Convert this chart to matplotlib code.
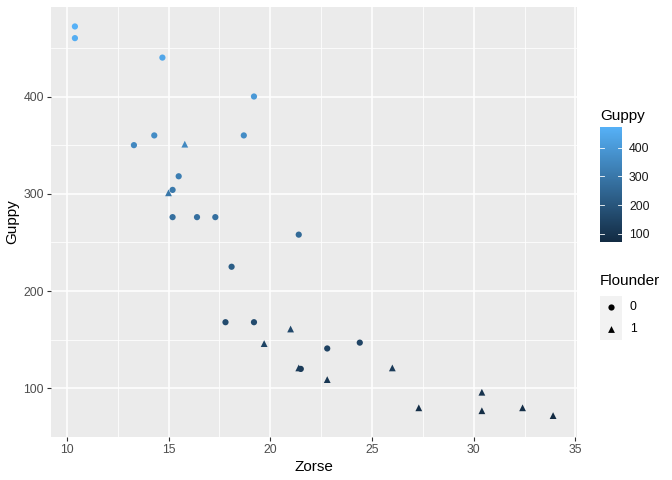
import numpy as np
import matplotlib
matplotlib.use("Agg")
import matplotlib.pyplot as plt
from matplotlib.colors import LinearSegmentedColormap, Normalize

plt.rcParams['font.family'] = ['Liberation Sans', 'DejaVu Sans']

# дані
zorse = [10.4, 10.4, 14.7, 19.2, 13.3, 14.3, 15.8, 18.7, 15.5, 15.2, 15.0,
         15.2, 16.4, 17.3, 21.4, 18.1, 17.8, 19.2, 21.0, 19.7, 22.8, 21.4,
         21.5, 22.8, 24.4, 26.0, 27.3, 30.4, 30.4, 32.4, 33.9]
guppy = [472, 460, 440, 400, 350, 360, 351, 360, 318, 304, 301,
         276, 276, 276, 258, 225, 168, 168, 161, 146, 141, 121,
         120, 109, 147, 121, 80, 96, 77, 80, 72]
flounder = [0, 0, 0, 0, 0, 0, 1, 0, 0, 0, 1,
            0, 0, 0, 0, 0, 0, 0, 1, 1, 0, 1,
            0, 1, 0, 1, 1, 1, 1, 1, 1]
cbar_ticks = [100, 200, 300, 400]

zorse = np.array(zorse)
guppy = np.array(guppy)
flounder = np.array(flounder)

cmap = LinearSegmentedColormap.from_list("gg", ["#132B43", "#56B1F7"])
norm = Normalize(vmin=guppy.min(), vmax=guppy.max())

fig = plt.figure(figsize=(6.72, 4.8), dpi=100)
ax = fig.add_axes([51 / 672, 1 - 437 / 480, (577 - 51) / 672, (437 - 7) / 480])
ax.set_facecolor("#EBEBEB")
ax.set_axisbelow(True)

for fl, mk in [(0, "o"), (1, "^")]:
    m = flounder == fl
    ax.scatter(zorse[m], guppy[m], c=guppy[m], cmap=cmap, norm=norm,
               marker=mk, s=20 if mk == "o" else 24, linewidths=0, zorder=3)

# межі як у ggplot (розширення 5%)
xr = zorse.max() - zorse.min()
yr = guppy.max() - guppy.min()
ax.set_xlim(zorse.min() - 0.05 * xr, zorse.max() + 0.05 * xr)
ax.set_ylim(guppy.min() - 0.05 * yr, guppy.max() + 0.05 * yr)

ax.set_xticks([10, 15, 20, 25, 30, 35])
ax.set_yticks([100, 200, 300, 400])
ax.set_xticks([12.5, 17.5, 22.5, 27.5, 32.5], minor=True)
ax.set_yticks([50, 150, 250, 350, 450], minor=True)
ax.grid(True, which="major", color="white", linewidth=1.1)
ax.grid(True, which="minor", color="white", linewidth=0.55)
for s in ax.spines.values():
    s.set_visible(False)
ax.tick_params(which="major", length=3, color="#333333", width=0.8,
               labelsize=8.8, labelcolor="#4D4D4D", pad=2)
ax.tick_params(which="minor", length=0)
ax.set_xlabel("Zorse", fontsize=11, labelpad=3)
ax.set_ylabel("Guppy", fontsize=11, labelpad=3)

# легенда кольору
cax = fig.add_axes([600 / 672, 1 - 242 / 480, 22 / 672, 115 / 480])
grad = np.linspace(guppy.min(), guppy.max(), 300).reshape(-1, 1)
cax.imshow(grad, aspect="auto", cmap=cmap, norm=norm, origin="lower",
           extent=[0, 1, guppy.min(), guppy.max()])
cax.set_xlim(0, 1)
cax.set_ylim(guppy.min(), guppy.max())
cax.set_xticks([])
cax.set_yticks(cbar_ticks)
cax.yaxis.tick_right()
cax.tick_params(axis="y", length=0, labelsize=8.8, labelcolor="#1A1A1A", pad=5)
for t in cbar_ticks:
    cax.plot([0, 0.2], [t, t], color="white", lw=0.6)
    cax.plot([0.8, 1], [t, t], color="white", lw=0.6)
for s in cax.spines.values():
    s.set_visible(False)
fig.text(600 / 672, 1 - 116 / 480, "Guppy", fontsize=11, va="center")

# легенда форми
fig.text(600 / 672, 1 - 281 / 480, "Flounder", fontsize=11, va="center")
lax = fig.add_axes([600 / 672, 1 - 340 / 480, 22 / 672, 44 / 480])
lax.set_xlim(0, 1)
lax.set_ylim(0, 2)
lax.axis("off")
lax.add_patch(plt.Rectangle((0, 1), 1, 1, color="#F2F2F2", lw=0))
lax.add_patch(plt.Rectangle((0, 0), 1, 1, color="#F2F2F2", lw=0))
lax.scatter([0.5], [1.5], marker="o", s=20, color="black", linewidths=0)
lax.scatter([0.5], [0.5], marker="^", s=24, color="black", linewidths=0)
fig.text(630 / 672, 1 - 307 / 480, "0", fontsize=8.8, va="center")
fig.text(630 / 672, 1 - 329 / 480, "1", fontsize=8.8, va="center")

fig.savefig("out.png", dpi=100)
